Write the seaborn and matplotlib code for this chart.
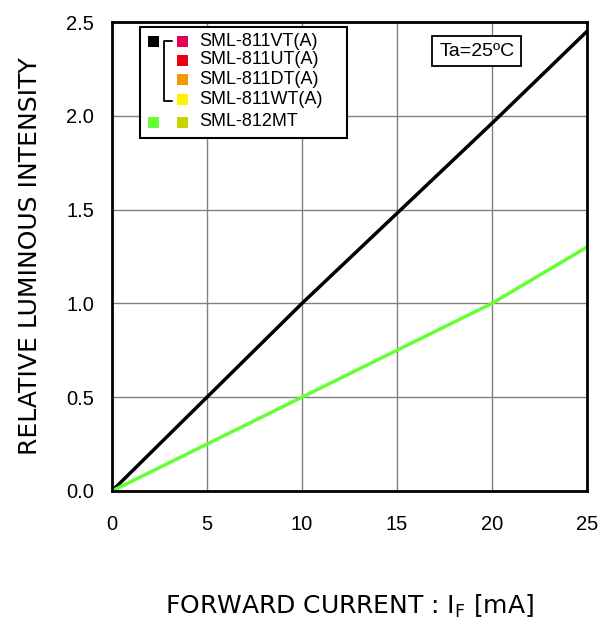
import pandas as pd
import seaborn as sns
import matplotlib.pyplot as plt
from matplotlib.patches import Rectangle
from matplotlib.lines import Line2D

# data
current = [0, 5, 10, 15, 20, 25]
lum_811 = [0.0, 0.50, 1.00, 1.48, 1.96, 2.45]
lum_812 = [0.0, 0.25, 0.50, 0.75, 1.00, 1.30]

legend_names = ["SML-811VT(A)", "SML-811UT(A)", "SML-811DT(A)", "SML-811WT(A)", "SML-812MT"]
legend_colors = ["#E5005A", "#E60012", "#F39800", "#FFF100", "#C8D400"]

df = pd.DataFrame({
    "current": current * 2,
    "lum": lum_811 + lum_812,
    "series": ["811"] * len(current) + ["812"] * len(current),
})

sns.set_style("white", {"text.color": "black", "axes.labelcolor": "black",
                        "xtick.color": "black", "ytick.color": "black"})
plt.rcParams['font.family'] = ['Liberation Sans', 'DejaVu Sans']

fig = plt.figure(figsize=(6.02, 6.25), dpi=100)
ax = fig.add_axes([0.186, 0.2144, 0.789, 0.7504])

sns.lineplot(data=df, x="current", y="lum", hue="series",
             palette={"811": "black", "812": "#66FF33"},
             linewidth=2.5, legend=False, ax=ax)

ax.set_xlim(0, 25)
ax.set_ylim(0, 2.5)
ax.set_xticks([0, 5, 10, 15, 20, 25])
ax.set_yticks([0, 0.5, 1.0, 1.5, 2.0, 2.5])
ax.set_yticklabels(["0.0", "0.5", "1.0", "1.5", "2.0", "2.5"])
ax.tick_params(labelsize=14.5, length=0, labelcolor="black")
ax.tick_params(axis="x", pad=17)
ax.tick_params(axis="y", pad=13)
ax.grid(True, color="#808080", linewidth=1)
for s in ax.spines.values():
    s.set_color("black")
    s.set_linewidth(2)

ax.set_xlabel("FORWARD CURRENT : I$_\\mathregular{F}$ [mA]", family="DejaVu Sans",
              fontsize=18, va="center", ha="center", color="black")
ax.set_ylabel("RELATIVE LUMINOUS INTENSITY", family="DejaVu Sans",
              fontsize=18, va="center", ha="center", color="black")
ax.xaxis.set_label_coords(0.5, -0.247)
ax.yaxis.set_label_coords(-0.172, 0.5)

# Ta box
ax.text(0.768, 0.938, "Ta=25ºC", transform=ax.transAxes, fontsize=14,
        ha="center", va="center", color="black",
        bbox=dict(boxstyle="square,pad=0.35", fc="white", ec="black", lw=1.3))

# custom legend
lx0, ly0, lx1, ly1 = 140, 27, 347, 138  # pixel box
def fx(px):
    return px / 602
def fy(py):
    return 1 - py / 625

fig.add_artist(Rectangle((fx(lx0), fy(ly1)), fx(lx1) - fx(lx0), fy(ly0) - fy(ly1),
                         transform=fig.transFigure, fc="white", ec="black", lw=1.5, zorder=5))
rows = [41, 60, 79, 99, 122]
sq = 11
for name, col, r in zip(legend_names, legend_colors, rows):
    fig.add_artist(Rectangle((fx(177), fy(r + sq / 2)), sq / 602, sq / 625,
                             transform=fig.transFigure, fc=col, ec="none", zorder=6))
    fig.text(fx(199), fy(r), name, fontsize=13, va="center", ha="left", color="black", zorder=6)
fig.add_artist(Rectangle((fx(148), fy(41 + sq / 2)), sq / 602, sq / 625,
                         transform=fig.transFigure, fc="black", ec="none", zorder=6))
fig.add_artist(Rectangle((fx(148), fy(122 + sq / 2)), sq / 602, sq / 625,
                         transform=fig.transFigure, fc="#66FF33", ec="none", zorder=6))
fig.add_artist(Line2D([fx(172), fx(164), fx(164), fx(172)], [fy(41), fy(41), fy(101), fy(101)],
                      transform=fig.transFigure, color="black", lw=1.3, zorder=6))

plt.savefig("out.png", dpi=100)
